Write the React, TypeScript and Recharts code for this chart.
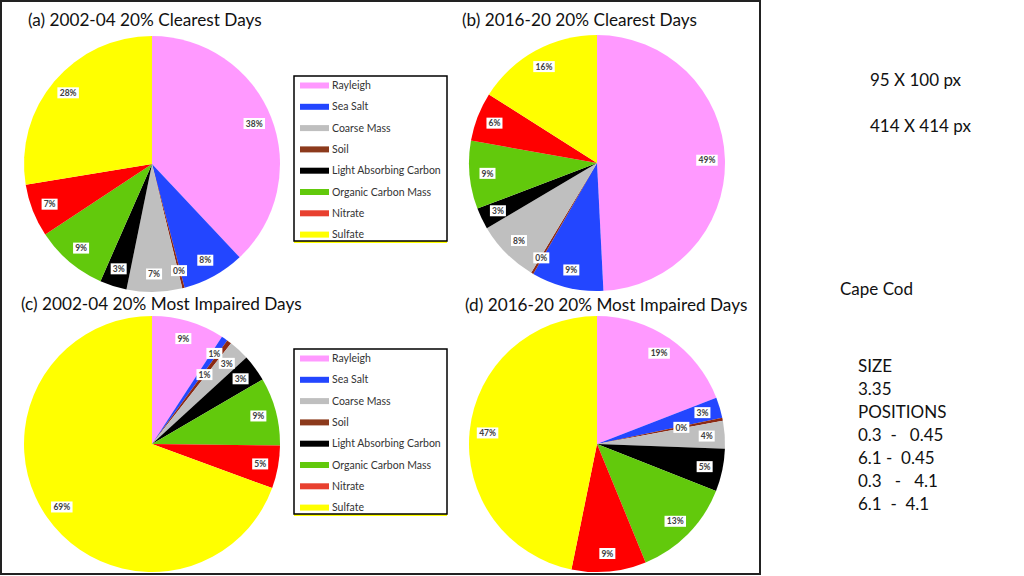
import React from "react";
import { Pie, PieChart } from "recharts";

// slice order in the pies (clockwise from 12 o'clock)
const categories = [
  "Rayleigh",
  "Sea Salt",
  "Soil",
  "Coarse Mass",
  "Light Absorbing Carbon",
  "Organic Carbon Mass",
  "Nitrate",
  "Sulfate",
];
const colors = ["#FF99FF", "#2346FF", "#8C2A14", "#BFBFBF", "#000000", "#62C90C", "#FF0000", "#FFFF00"];
const legendColors = ["#FF99FF", "#2346FF", "#BFBFBF", "#8C3A1C", "#000000", "#62C90C", "#E8402F", "#FFFF00"];
const legendOrder = [
  "Rayleigh",
  "Sea Salt",
  "Coarse Mass",
  "Soil",
  "Light Absorbing Carbon",
  "Organic Carbon Mass",
  "Nitrate",
  "Sulfate",
];

const clearest0204 = [38, 7.9, 0.3, 7, 3.4, 9.1, 6.7, 27.6];
const clearest1620 = [49.2, 9.1, 0.3, 7.9, 2.7, 8.6, 6.2, 16.0];
const impaired0204 = [9.2, 0.8, 0.6, 2.6, 3.4, 8.6, 5.4, 69.4];
const impaired1620 = [19.1, 2.6, 0.4, 3.5, 5.4, 12.8, 9.4, 46.8];

const titles = [
  "(a) 2002-04 20% Clearest Days",
  "(b) 2016-20 20% Clearest Days",
  "(c) 2002-04 20% Most Impaired Days",
  "(d) 2016-20 20% Most Impaired Days",
];
const sideNotes = ["95 X 100 px", "414 X 414 px"];
const siteName = "Cape Cod";
const sizeNotes = ["SIZE", "3.35", "POSITIONS", "0.3  -   0.45", "6.1 -  0.45", "0.3   -   4.1", "6.1  -  4.1"];

const toRows = (vals: number[]) => categories.map((name, i) => ({ name, value: vals[i], fill: colors[i] }));

const FONT = "Lato, 'Open Sans', sans-serif";
const RAD = Math.PI / 180;

const makeLabel = (radii: Record<number, number>) => (props: any) => {
  const { cx, cy, midAngle, value, index } = props;
  const r = radii[index] ?? 110;
  const x = cx + r * Math.cos(-midAngle * RAD);
  const y = cy + r * Math.sin(-midAngle * RAD);
  const text = `${Math.round(value)}%`;
  const w = text.length * 5.5 + 5;
  return (
    <g>
      <rect x={x - w / 2} y={y - 5.5} width={w} height={11} fill="#fff" />
      <text
        x={x}
        y={y + 3.2}
        textAnchor="middle"
        fontSize={8.5}
        fontWeight="bold"
        fontFamily={FONT}
        fill="#404040"
      >
        {text}
      </text>
    </g>
  );
};

const pies = [
  { data: clearest0204, cx: 152, cy: 164, radii: {} },
  { data: clearest1620, cx: 597, cy: 163, radii: {} },
  { data: impaired0204, cx: 152, cy: 444, radii: { 2: 87 } },
  { data: impaired1620, cx: 597, cy: 444, radii: { 2: 86 } },
];

const Legend = ({ x, y }: { x: number; y: number }) => (
  <g>
    <rect x={x} y={y + 2} width={153} height={165} fill="#FFFF00" />
    <rect x={x} y={y} width={153} height={165} fill="#fff" stroke="#000" strokeWidth={1.5} />
    {legendOrder.map((name, i) => {
      const cy = y + 9.5 + i * 21.3;
      return (
        <g key={name}>
          <rect x={x + 6} y={cy - 3} width={29} height={6} fill={legendColors[i]} />
          <text x={x + 38} y={cy + 3.5} fontSize={10.5} fontFamily={FONT} fill="#333">
            {name}
          </text>
        </g>
      );
    })}
  </g>
);

export default function App() {
  return (
    <div style={{ position: "absolute", left: 0, top: 0, width: 1024, height: 576, background: "#fff" }}>
      <PieChart width={1024} height={576} margin={{ top: 0, right: 0, bottom: 0, left: 0 }}>
        {pies.map((p, i) => (
          <Pie
            key={i}
            data={toRows(p.data)}
            dataKey="value"
            nameKey="name"
            cx={p.cx}
            cy={p.cy}
            outerRadius={128}
            startAngle={90}
            endAngle={-270}
            stroke="none"
            labelLine={false}
            label={makeLabel(p.radii)}
            isAnimationActive={false}
          />
        ))}
      </PieChart>
      <svg
        width={1024}
        height={576}
        style={{ position: "absolute", left: 0, top: 0, pointerEvents: "none" }}
        fontFamily={FONT}
      >
        <rect x={1} y={1} width={759} height={573} fill="none" stroke="#222" strokeWidth={2} />
        <text x={28} y={26} fontSize={17.2} fill="#111">{titles[0]}</text>
        <text x={462} y={26} fontSize={17.2} fill="#111">{titles[1]}</text>
        <text x={21} y={310} fontSize={17.2} fill="#111">{titles[2]}</text>
        <text x={465} y={311} fontSize={17.2} fill="#111">{titles[3]}</text>
        <Legend x={294} y={76} />
        <Legend x={294} y={349} />
        <text x={870} y={86} fontSize={17} fill="#111">{sideNotes[0]}</text>
        <text x={870} y={132} fontSize={17} fill="#111">{sideNotes[1]}</text>
        <text x={840} y={295} fontSize={17} fill="#111">{siteName}</text>
        {sizeNotes.map((t, i) => (
          <text key={i} x={858} y={372 + i * 23} fontSize={17} fill="#111" style={{ whiteSpace: "pre" }}>
            {t}
          </text>
        ))}
      </svg>
    </div>
  );
}
